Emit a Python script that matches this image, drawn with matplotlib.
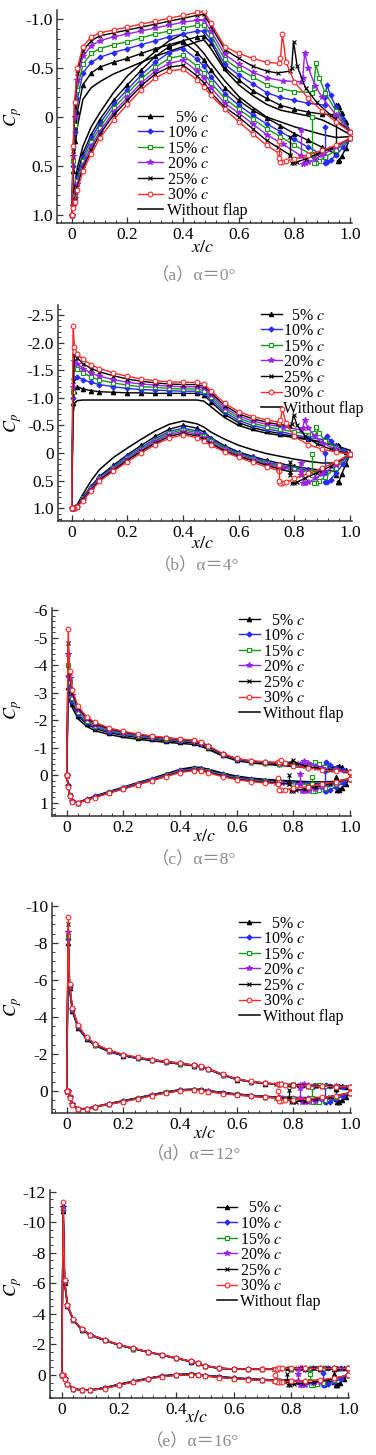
import matplotlib
matplotlib.use("Agg")
import matplotlib.pyplot as plt
from matplotlib.lines import Line2D
from matplotlib.ticker import MultipleLocator, FixedLocator, FixedFormatter

plt.rcParams['font.family'] = ['Liberation Serif', 'Noto Sans CJK SC']
plt.rcParams['mathtext.fontset'] = 'stix'
plt.rcParams['axes.unicode_minus'] = False

# ---------------- series definitions ----------------
LABELS = ["  5% $c$", "10% $c$", "15% $c$", "20% $c$", "25% $c$", "30% $c$", "Without flap"]
COLORS = ['black', '#2a2aff', '#139a13', '#9a22ee', 'black', '#ff2a2a', 'black']
MARKERS = ['^', 'D', 's', '*', 'x', 'o', None]
MFC = ['black', '#2a2aff', 'white', '#9a22ee', 'black', 'white', 'none']
MSIZE = [3.2, 2.6, 3.2, 3.8, 3.2, 3.4, 0]

# chordwise stations (x/c) on the main element, shared by all series
XM = [0, 0.005, 0.01, 0.02, 0.04, 0.07, 0.1, 0.15, 0.2, 0.25, 0.3, 0.35, 0.4,
      0.45, 0.475, 0.5, 0.55, 0.6, 0.65, 0.7]
# aft stations of the main element (up to hinge) per series
TAIL_X = [[0.75, 0.8, 0.85, 0.9, 0.95],
          [0.75, 0.8, 0.85, 0.91],
          [0.75, 0.8, 0.865],
          [0.76, 0.825],
          [0.74, 0.785],
          [0.745],
          [0.75, 0.8, 0.85, 0.9, 0.95, 1.0]]
# flap stations per flap series
FLAP_X = [[0.955, 0.96, 0.97, 0.985, 1.0],
          [0.91, 0.917, 0.93, 0.95, 0.975, 1.0],
          [0.87, 0.877, 0.89, 0.91, 0.95, 1.0],
          [0.83, 0.837, 0.85, 0.875, 0.9, 0.95, 1.0],
          [0.79, 0.797, 0.81, 0.84, 0.88, 0.93, 1.0],
          [0.75, 0.757, 0.77, 0.8, 0.85, 0.9, 0.95, 1.0]]

# ---------------- (a) alpha = 0 ----------------
UP_A = [
    [1.0, 0.55, 0.25, -0.05, -0.33, -0.45, -0.51, -0.56, -0.6, -0.65, -0.7, -0.74, -0.78, -0.82, -0.83, -0.76, -0.5, -0.38, -0.27, -0.19],
    [1.0, 0.5, 0.15, -0.18, -0.45, -0.56, -0.61, -0.66, -0.7, -0.74, -0.78, -0.82, -0.85, -0.88, -0.88, -0.79, -0.54, -0.43, -0.34, -0.25],
    [1.0, 0.45, 0.08, -0.28, -0.54, -0.65, -0.7, -0.74, -0.77, -0.81, -0.85, -0.88, -0.91, -0.94, -0.94, -0.84, -0.59, -0.49, -0.41, -0.33],
    [1.0, 0.4, 0.0, -0.38, -0.62, -0.73, -0.78, -0.82, -0.85, -0.88, -0.91, -0.94, -0.97, -0.99, -0.99, -0.88, -0.64, -0.54, -0.46, -0.4],
    [1.0, 0.35, -0.1, -0.45, -0.68, -0.78, -0.83, -0.86, -0.89, -0.92, -0.95, -0.98, -1.01, -1.04, -1.05, -0.93, -0.69, -0.6, -0.52, -0.47],
    [1.0, 0.3, -0.15, -0.5, -0.72, -0.82, -0.86, -0.89, -0.92, -0.95, -0.98, -1.01, -1.04, -1.07, -1.08, -0.96, -0.72, -0.65, -0.6, -0.56],
    [1.0, 0.6, 0.35, 0.1, -0.18, -0.3, -0.36, -0.44, -0.5, -0.56, -0.62, -0.67, -0.72, -0.77, -0.79, -0.7, -0.48, -0.33, -0.22, -0.13]]
LO_A = [
    [1.0, 0.88, 0.77, 0.59, 0.37, 0.18, 0.03, -0.17, -0.33, -0.48, -0.62, -0.72, -0.77, -0.66, -0.58, -0.48, -0.3, -0.17, -0.07, 0.01],
    [1.0, 0.89, 0.79, 0.62, 0.41, 0.22, 0.07, -0.13, -0.28, -0.43, -0.56, -0.66, -0.7, -0.59, -0.52, -0.41, -0.24, -0.12, -0.02, 0.07],
    [1.0, 0.9, 0.81, 0.66, 0.45, 0.26, 0.11, -0.09, -0.24, -0.39, -0.51, -0.6, -0.63, -0.52, -0.45, -0.35, -0.19, -0.08, 0.02, 0.12],
    [1.0, 0.91, 0.83, 0.69, 0.49, 0.3, 0.15, -0.05, -0.2, -0.35, -0.47, -0.55, -0.58, -0.47, -0.4, -0.3, -0.14, -0.04, 0.07, 0.18],
    [1.0, 0.92, 0.85, 0.72, 0.52, 0.34, 0.18, -0.02, -0.17, -0.32, -0.44, -0.51, -0.53, -0.42, -0.35, -0.25, -0.1, 0.0, 0.12, 0.24],
    [1.0, 0.93, 0.87, 0.75, 0.55, 0.38, 0.22, 0.03, -0.13, -0.28, -0.4, -0.47, -0.49, -0.38, -0.31, -0.22, -0.08, 0.05, 0.17, 0.29],
    [1.0, 0.85, 0.72, 0.52, 0.3, 0.1, -0.04, -0.25, -0.42, -0.55, -0.67, -0.78, -0.85, -0.73, -0.65, -0.55, -0.37, -0.21, -0.1, 0.0]]
UPT_A = [[-0.12, -0.08, -0.05, -0.03, -0.02], [-0.2, -0.17, -0.14, -0.12], [-0.29, -0.26, -0.25],
         [-0.37, -0.36], [-0.45, -0.47], [-0.55], [-0.07, -0.04, -0.01, 0.03, 0.1, 0.18]]
LOT_A = [[0.09, 0.17, 0.24, 0.31, 0.38], [0.15, 0.23, 0.31, 0.4], [0.2, 0.29, 0.39],
         [0.28, 0.4], [0.31, 0.39], [0.37], [0.05, 0.1, 0.14, 0.18, 0.21, 0.2]]
FUP_A = [[-0.12, -0.1, -0.04, 0.05, 0.15],
         [-0.2, -0.33, -0.22, -0.1, 0.02, 0.15],
         [-0.3, -0.55, -0.4, -0.25, -0.06, 0.15],
         [-0.4, -0.66, -0.5, -0.32, -0.2, -0.02, 0.15],
         [-0.5, -0.77, -0.52, -0.3, -0.15, -0.02, 0.15],
         [-0.6, -0.85, -0.56, -0.36, -0.19, -0.06, 0.05, 0.15]]
FLO_A = [[0.45, 0.44, 0.4, 0.32, 0.22],
         [0.47, 0.46, 0.44, 0.39, 0.31, 0.22],
         [0.47, 0.47, 0.45, 0.41, 0.34, 0.22],
         [0.48, 0.47, 0.46, 0.43, 0.39, 0.31, 0.22],
         [0.47, 0.47, 0.46, 0.43, 0.38, 0.32, 0.22],
         [0.46, 0.46, 0.45, 0.43, 0.39, 0.34, 0.29, 0.22]]
GAP_A = [[-0.12, 0.36], [0.1, 0.42], [0.0, 0.38], [0.13, 0.4], [0.2, 0.4], [0.25, 0.42]]

# ---------------- (b) alpha = 4 ----------------
UP_B = [
    [1.0, -0.9, -1.13, -1.2, -1.16, -1.13, -1.11, -1.1, -1.09, -1.09, -1.08, -1.08, -1.08, -1.08, -1.05, -0.93, -0.7, -0.55, -0.46, -0.4],
    [1.0, -1.0, -1.36, -1.38, -1.33, -1.28, -1.24, -1.2, -1.17, -1.15, -1.14, -1.13, -1.12, -1.12, -1.09, -0.97, -0.74, -0.59, -0.5, -0.44],
    [1.0, -1.1, -1.56, -1.53, -1.45, -1.38, -1.32, -1.27, -1.23, -1.2, -1.19, -1.17, -1.16, -1.16, -1.13, -1.01, -0.78, -0.63, -0.54, -0.48],
    [1.0, -1.2, -1.66, -1.62, -1.53, -1.45, -1.39, -1.33, -1.28, -1.25, -1.23, -1.21, -1.2, -1.2, -1.17, -1.05, -0.82, -0.67, -0.58, -0.52],
    [1.0, -1.3, -1.78, -1.72, -1.62, -1.53, -1.47, -1.4, -1.34, -1.3, -1.27, -1.25, -1.24, -1.24, -1.21, -1.09, -0.86, -0.71, -0.62, -0.56],
    [1.0, -2.3, -1.92, -1.8, -1.7, -1.6, -1.53, -1.45, -1.39, -1.34, -1.31, -1.29, -1.28, -1.28, -1.25, -1.13, -0.9, -0.75, -0.66, -0.6],
    [1.0, -0.7, -0.9, -0.95, -0.96, -0.96, -0.96, -0.96, -0.96, -0.96, -0.96, -0.96, -0.96, -0.96, -0.94, -0.84, -0.64, -0.5, -0.42, -0.36]]
LO_B = [
    [1.0, 1.0, 1.0, 0.95, 0.8, 0.6, 0.42, 0.22, 0.03, -0.14, -0.3, -0.43, -0.5, -0.45, -0.38, -0.28, -0.13, -0.02, 0.06, 0.13],
    [1.0, 1.0, 1.0, 0.96, 0.81, 0.62, 0.44, 0.25, 0.06, -0.1, -0.26, -0.39, -0.45, -0.4, -0.34, -0.25, -0.1, 0.0, 0.08, 0.16],
    [1.0, 1.0, 1.0, 0.96, 0.82, 0.64, 0.46, 0.27, 0.09, -0.07, -0.23, -0.36, -0.42, -0.37, -0.31, -0.22, -0.08, 0.02, 0.1, 0.18],
    [1.0, 1.0, 1.0, 0.97, 0.83, 0.65, 0.47, 0.29, 0.11, -0.05, -0.21, -0.33, -0.39, -0.34, -0.28, -0.19, -0.06, 0.04, 0.12, 0.2],
    [1.0, 1.0, 1.0, 0.97, 0.84, 0.67, 0.49, 0.31, 0.13, -0.03, -0.18, -0.3, -0.36, -0.31, -0.25, -0.17, -0.04, 0.06, 0.14, 0.22],
    [1.0, 1.0, 1.0, 0.98, 0.86, 0.69, 0.51, 0.33, 0.16, 0.0, -0.15, -0.27, -0.33, -0.28, -0.22, -0.14, -0.02, 0.08, 0.17, 0.25],
    [1.0, 1.0, 1.0, 0.93, 0.75, 0.5, 0.3, 0.08, -0.09, -0.25, -0.4, -0.52, -0.58, -0.53, -0.47, -0.38, -0.25, -0.14, -0.06, 0.01]]
UPT_B = [[-0.35, -0.3, -0.25, -0.2, -0.15], [-0.39, -0.33, -0.28, -0.24], [-0.43, -0.38, -0.34],
         [-0.47, -0.42], [-0.52, -0.49], [-0.56], [-0.32, -0.28, -0.24, -0.19, -0.13, -0.05]]
LOT_B = [[0.19, 0.24, 0.28, 0.31, 0.33], [0.22, 0.27, 0.31, 0.34], [0.24, 0.29, 0.34],
         [0.27, 0.34], [0.28, 0.34], [0.32], [0.06, 0.11, 0.15, 0.18, 0.18, 0.05]]
FUP_B = [[-0.15, -0.12, -0.06, -0.02, 0.02],
         [-0.25, -0.3, -0.22, -0.12, -0.05, 0.02],
         [-0.36, -0.48, -0.36, -0.22, -0.1, 0.02],
         [-0.45, -0.6, -0.45, -0.3, -0.18, -0.07, 0.02],
         [-0.52, -0.69, -0.5, -0.3, -0.17, -0.07, 0.02],
         [-0.6, -0.79, -0.55, -0.3, -0.15, -0.07, -0.02, 0.02]]
FLO_B = [[0.52, 0.52, 0.38, 0.2, 0.02],
         [0.53, 0.53, 0.48, 0.36, 0.2, 0.02],
         [0.54, 0.54, 0.51, 0.43, 0.27, 0.02],
         [0.55, 0.55, 0.53, 0.46, 0.38, 0.22, 0.02],
         [0.55, 0.55, 0.53, 0.45, 0.36, 0.24, 0.02],
         [0.55, 0.55, 0.53, 0.46, 0.37, 0.27, 0.16, 0.02]]
GAP_B = [[0.16, 0.4], [0.0, 0.4], [0.02, 0.4], [0.18, 0.4], [0.17, 0.4], [0.22, 0.5]]

# ---------------- (c) alpha = 8 ----------------
UP_C = [
    [0.0, -3.2, -3.0, -2.6, -2.15, -1.87, -1.7, -1.55, -1.45, -1.37, -1.31, -1.26, -1.22, -1.18, -1.12, -1.0, -0.74, -0.56, -0.48, -0.44],
    [0.0, -3.6, -3.2, -2.7, -2.22, -1.93, -1.75, -1.59, -1.49, -1.41, -1.35, -1.3, -1.25, -1.21, -1.15, -1.02, -0.75, -0.57, -0.49, -0.45],
    [0.0, -4.0, -3.4, -2.8, -2.3, -1.98, -1.8, -1.63, -1.52, -1.44, -1.38, -1.32, -1.27, -1.23, -1.17, -1.04, -0.76, -0.58, -0.5, -0.46],
    [0.0, -4.4, -3.55, -2.9, -2.38, -2.04, -1.84, -1.66, -1.55, -1.46, -1.4, -1.34, -1.29, -1.25, -1.18, -1.05, -0.77, -0.59, -0.51, -0.47],
    [0.0, -4.8, -3.7, -3.0, -2.44, -2.09, -1.88, -1.69, -1.58, -1.48, -1.42, -1.36, -1.31, -1.26, -1.19, -1.06, -0.78, -0.6, -0.52, -0.48],
    [0.0, -5.3, -3.8, -3.1, -2.5, -2.13, -1.92, -1.72, -1.6, -1.5, -1.43, -1.37, -1.32, -1.27, -1.2, -1.07, -0.79, -0.61, -0.53, -0.49],
    [0.0, -2.9, -2.7, -2.45, -2.05, -1.78, -1.62, -1.48, -1.38, -1.31, -1.25, -1.2, -1.16, -1.12, -1.05, -0.94, -0.7, -0.53, -0.45, -0.4]]
LO_C = [
    [0.0, 0.36, 0.71, 0.94, 0.99, 0.88, 0.76, 0.6, 0.44, 0.28, 0.13, -0.03, -0.2, -0.27, -0.25, -0.19, -0.05, 0.06, 0.13, 0.18],
    [0.0, 0.37, 0.72, 0.94, 0.99, 0.88, 0.77, 0.61, 0.45, 0.3, 0.15, -0.01, -0.18, -0.25, -0.23, -0.17, -0.03, 0.08, 0.15, 0.2],
    [0.0, 0.38, 0.73, 0.95, 1.0, 0.89, 0.78, 0.62, 0.46, 0.31, 0.16, 0.0, -0.16, -0.23, -0.21, -0.15, -0.01, 0.1, 0.17, 0.22],
    [0.0, 0.39, 0.74, 0.95, 1.0, 0.9, 0.79, 0.63, 0.47, 0.32, 0.17, 0.02, -0.14, -0.21, -0.19, -0.13, 0.01, 0.12, 0.19, 0.24],
    [0.0, 0.4, 0.75, 0.96, 1.0, 0.9, 0.8, 0.64, 0.49, 0.34, 0.19, 0.04, -0.12, -0.19, -0.17, -0.11, 0.03, 0.14, 0.21, 0.26],
    [0.0, 0.41, 0.76, 0.96, 1.0, 0.91, 0.81, 0.65, 0.5, 0.35, 0.2, 0.05, -0.1, -0.17, -0.15, -0.09, 0.05, 0.16, 0.23, 0.28],
    [0.0, 0.35, 0.7, 0.93, 0.98, 0.87, 0.75, 0.59, 0.43, 0.27, 0.12, -0.05, -0.22, -0.3, -0.28, -0.22, -0.08, 0.03, 0.1, 0.15]]
UPT_C = [[-0.4, -0.37, -0.33, -0.3, -0.27], [-0.41, -0.38, -0.35, -0.32], [-0.42, -0.39, -0.36],
         [-0.43, -0.4], [-0.45, -0.43], [-0.47], [-0.36, -0.32, -0.28, -0.23, -0.17, -0.1]]
LOT_C = [[0.22, 0.26, 0.29, 0.32, 0.34], [0.24, 0.28, 0.31, 0.34], [0.26, 0.3, 0.34],
         [0.28, 0.33], [0.29, 0.32], [0.31], [0.18, 0.21, 0.23, 0.24, 0.22, 0.12]]
FUP_C = [[-0.3, -0.35, -0.3, -0.2, -0.12],
         [-0.35, -0.47, -0.38, -0.28, -0.2, -0.12],
         [-0.38, -0.5, -0.4, -0.3, -0.2, -0.12],
         [-0.42, -0.53, -0.45, -0.35, -0.28, -0.2, -0.12],
         [-0.45, -0.55, -0.45, -0.34, -0.26, -0.18, -0.12],
         [-0.47, -0.55, -0.45, -0.35, -0.26, -0.2, -0.15, -0.12]]
FLO_C = [[0.55, 0.55, 0.45, 0.3, 0.12],
         [0.57, 0.57, 0.52, 0.42, 0.28, 0.12],
         [0.58, 0.58, 0.55, 0.48, 0.32, 0.12],
         [0.58, 0.58, 0.56, 0.5, 0.43, 0.28, 0.12],
         [0.57, 0.57, 0.55, 0.5, 0.42, 0.3, 0.12],
         [0.54, 0.54, 0.52, 0.48, 0.41, 0.33, 0.23, 0.12]]
GAP_C = [[0.05, 0.3], [-0.15, 0.3], [0.05, 0.3], [-0.05, 0.3], [0.0, 0.3], [0.1, 0.3]]

# ---------------- (d) alpha = 12 ----------------
UP_D = [
    [0.0, -8.0, -5.55, -4.34, -3.43, -2.82, -2.47, -2.14, -1.91, -1.77, -1.66, -1.56, -1.46, -1.37, -1.3, -1.17, -0.87, -0.62, -0.49, -0.4],
    [0.0, -8.2, -5.6, -4.38, -3.46, -2.84, -2.49, -2.15, -1.92, -1.78, -1.67, -1.57, -1.47, -1.37, -1.31, -1.18, -0.87, -0.63, -0.5, -0.41],
    [0.0, -8.4, -5.65, -4.42, -3.49, -2.86, -2.51, -2.17, -1.94, -1.79, -1.68, -1.58, -1.48, -1.38, -1.31, -1.18, -0.88, -0.63, -0.5, -0.41],
    [0.0, -8.6, -5.7, -4.45, -3.51, -2.87, -2.52, -2.18, -1.95, -1.8, -1.69, -1.59, -1.49, -1.39, -1.32, -1.19, -0.89, -0.64, -0.51, -0.42],
    [0.0, -9.0, -5.75, -4.48, -3.53, -2.89, -2.54, -2.19, -1.96, -1.81, -1.7, -1.6, -1.5, -1.4, -1.33, -1.2, -0.9, -0.65, -0.52, -0.43],
    [0.0, -9.4, -5.8, -4.5, -3.55, -2.9, -2.55, -2.2, -1.97, -1.82, -1.7, -1.6, -1.5, -1.4, -1.33, -1.2, -0.9, -0.65, -0.52, -0.43],
    [0.0, -7.8, -5.5, -4.3, -3.4, -2.8, -2.45, -2.12, -1.9, -1.76, -1.65, -1.55, -1.45, -1.36, -1.29, -1.16, -0.86, -0.62, -0.49, -0.4]]
LO_D = [
    [0.0, 0.0, 0.31, 0.71, 0.97, 0.95, 0.85, 0.69, 0.53, 0.38, 0.21, 0.06, -0.06, -0.09, -0.07, -0.01, 0.09, 0.17, 0.24, 0.3],
    [0.0, 0.0, 0.32, 0.72, 0.98, 0.95, 0.85, 0.7, 0.54, 0.39, 0.22, 0.07, -0.05, -0.08, -0.06, 0.0, 0.1, 0.18, 0.25, 0.31],
    [0.0, 0.0, 0.33, 0.72, 0.98, 0.96, 0.86, 0.7, 0.55, 0.4, 0.23, 0.08, -0.04, -0.07, -0.05, 0.01, 0.11, 0.19, 0.26, 0.32],
    [0.0, 0.0, 0.34, 0.73, 0.99, 0.96, 0.86, 0.71, 0.56, 0.41, 0.24, 0.09, -0.03, -0.06, -0.04, 0.02, 0.12, 0.2, 0.27, 0.33],
    [0.0, 0.0, 0.35, 0.74, 0.99, 0.97, 0.87, 0.72, 0.57, 0.42, 0.25, 0.1, -0.02, -0.05, -0.03, 0.03, 0.13, 0.21, 0.28, 0.34],
    [0.0, 0.0, 0.36, 0.75, 1.0, 0.97, 0.87, 0.72, 0.58, 0.43, 0.26, 0.11, -0.01, -0.04, -0.02, 0.04, 0.14, 0.22, 0.29, 0.35],
    [0.0, 0.0, 0.3, 0.7, 0.97, 0.94, 0.84, 0.68, 0.52, 0.37, 0.2, 0.05, -0.07, -0.1, -0.08, -0.02, 0.08, 0.16, 0.23, 0.29]]
UPT_D = [[-0.36, -0.31, -0.28, -0.26, -0.25], [-0.36, -0.32, -0.29, -0.27], [-0.37, -0.32, -0.29],
         [-0.36, -0.31], [-0.38, -0.34], [-0.38], [-0.34, -0.3, -0.27, -0.25, -0.23, -0.22]]
LOT_D = [[0.34, 0.37, 0.39, 0.4, 0.42], [0.35, 0.38, 0.4, 0.42], [0.36, 0.39, 0.42],
         [0.37, 0.42], [0.37, 0.41], [0.38], [0.33, 0.35, 0.36, 0.35, 0.3, 0.1]]
FUP_D = [[-0.25, -0.26, -0.25, -0.24, -0.23],
         [-0.27, -0.3, -0.28, -0.26, -0.24, -0.23],
         [-0.29, -0.33, -0.3, -0.27, -0.25, -0.23],
         [-0.31, -0.36, -0.32, -0.29, -0.27, -0.25, -0.23],
         [-0.33, -0.38, -0.33, -0.29, -0.27, -0.25, -0.23],
         [-0.36, -0.4, -0.34, -0.3, -0.27, -0.25, -0.24, -0.23]]
FLO_D = [[0.6, 0.6, 0.5, 0.3, 0.1],
         [0.62, 0.62, 0.57, 0.45, 0.28, 0.1],
         [0.62, 0.62, 0.58, 0.5, 0.3, 0.1],
         [0.62, 0.62, 0.59, 0.53, 0.45, 0.28, 0.1],
         [0.6, 0.6, 0.57, 0.52, 0.44, 0.3, 0.1],
         [0.52, 0.52, 0.5, 0.47, 0.42, 0.35, 0.25, 0.1]]
GAP_D = [[-0.1, 0.4], [-0.25, 0.4], [-0.2, 0.4], [-0.15, 0.4], [-0.05, 0.4], [0.0, 0.4]]

# ---------------- (e) alpha = 16 ----------------
UP_E = [
    [0.0, -10.7, -6.04, -4.52, -3.59, -2.96, -2.61, -2.27, -1.95, -1.72, -1.5, -1.29, -1.1, -0.88, -0.76, -0.6, -0.43, -0.38, -0.37, -0.37],
    [0.0, -10.8, -6.08, -4.54, -3.6, -2.97, -2.62, -2.28, -1.96, -1.73, -1.51, -1.3, -1.1, -0.88, -0.76, -0.61, -0.44, -0.39, -0.38, -0.38],
    [0.0, -10.9, -6.12, -4.56, -3.62, -2.98, -2.63, -2.28, -1.96, -1.73, -1.51, -1.3, -1.11, -0.89, -0.77, -0.61, -0.44, -0.39, -0.38, -0.38],
    [0.0, -11.0, -6.16, -4.58, -3.63, -2.99, -2.64, -2.29, -1.97, -1.74, -1.52, -1.31, -1.11, -0.89, -0.77, -0.62, -0.45, -0.4, -0.39, -0.39],
    [0.0, -11.2, -6.2, -4.6, -3.64, -3.0, -2.65, -2.3, -1.98, -1.75, -1.53, -1.32, -1.12, -0.9, -0.78, -0.62, -0.45, -0.4, -0.39, -0.39],
    [0.0, -11.3, -6.2, -4.6, -3.65, -3.0, -2.65, -2.3, -1.98, -1.75, -1.53, -1.32, -1.12, -0.9, -0.78, -0.62, -0.45, -0.4, -0.39, -0.39],
    [0.0, -10.5, -6.0, -4.5, -3.58, -2.95, -2.6, -2.26, -1.95, -1.72, -1.5, -1.29, -1.09, -0.87, -0.75, -0.6, -0.43, -0.38, -0.37, -0.37]]
LO_E = [
    [0.0, 0.0, 0.21, 0.56, 0.89, 0.98, 0.98, 0.83, 0.61, 0.41, 0.22, 0.06, -0.03, -0.06, -0.04, 0.02, 0.11, 0.19, 0.25, 0.3],
    [0.0, 0.0, 0.22, 0.57, 0.89, 0.98, 0.98, 0.84, 0.62, 0.42, 0.23, 0.07, -0.02, -0.05, -0.03, 0.03, 0.12, 0.2, 0.26, 0.31],
    [0.0, 0.0, 0.23, 0.58, 0.9, 0.99, 0.99, 0.85, 0.63, 0.43, 0.24, 0.08, -0.01, -0.04, -0.02, 0.04, 0.13, 0.21, 0.27, 0.32],
    [0.0, 0.0, 0.24, 0.59, 0.9, 0.99, 0.99, 0.86, 0.64, 0.44, 0.25, 0.09, 0.0, -0.03, -0.01, 0.05, 0.14, 0.22, 0.28, 0.33],
    [0.0, 0.0, 0.25, 0.6, 0.91, 1.0, 1.0, 0.87, 0.65, 0.45, 0.26, 0.1, 0.01, -0.02, 0.0, 0.06, 0.15, 0.23, 0.29, 0.34],
    [0.0, 0.0, 0.26, 0.61, 0.91, 1.0, 1.0, 0.88, 0.66, 0.46, 0.27, 0.11, 0.02, -0.01, 0.01, 0.07, 0.16, 0.24, 0.3, 0.35],
    [0.0, 0.0, 0.2, 0.55, 0.88, 0.97, 0.97, 0.82, 0.6, 0.4, 0.21, 0.05, -0.04, -0.07, -0.05, 0.01, 0.1, 0.18, 0.24, 0.29]]
UPT_E = [[-0.38, -0.39, -0.4, -0.41, -0.42], [-0.39, -0.4, -0.41, -0.42], [-0.39, -0.4, -0.41],
         [-0.4, -0.41], [-0.4, -0.41], [-0.4], [-0.37, -0.37, -0.38, -0.38, -0.39, -0.4]]
LOT_E = [[0.33, 0.36, 0.39, 0.41, 0.43], [0.34, 0.37, 0.4, 0.42], [0.35, 0.38, 0.42],
         [0.36, 0.42], [0.37, 0.4], [0.38], [0.32, 0.35, 0.38, 0.4, 0.3, 0.0]]
FUP_E = [[-0.45, -0.46, -0.45, -0.45, -0.44],
         [-0.45, -0.47, -0.46, -0.45, -0.45, -0.44],
         [-0.44, -0.47, -0.46, -0.45, -0.45, -0.44],
         [-0.44, -0.47, -0.46, -0.45, -0.45, -0.45, -0.44],
         [-0.43, -0.46, -0.45, -0.45, -0.44, -0.44, -0.44],
         [-0.42, -0.45, -0.44, -0.44, -0.44, -0.44, -0.44, -0.44]]
FLO_E = [[0.65, 0.65, 0.5, 0.25, 0.0],
         [0.65, 0.65, 0.58, 0.45, 0.25, 0.0],
         [0.66, 0.66, 0.6, 0.5, 0.3, 0.0],
         [0.66, 0.66, 0.62, 0.55, 0.47, 0.25, 0.0],
         [0.63, 0.63, 0.6, 0.55, 0.47, 0.3, 0.0],
         [0.45, 0.45, 0.44, 0.42, 0.38, 0.3, 0.2, 0.0]]
GAP_E = [[-0.1, 0.42], [-0.15, 0.42], [-0.05, 0.42], [-0.1, 0.42], [-0.05, 0.4], [0.0, 0.4]]

# ---------------- axes / labels ----------------
X_TICKS = [0, 0.2, 0.4, 0.6, 0.8, 1.0]
X_TICKLABELS = ['0', '0.2', '0.4', '0.6', '0.8', '1.0']
Y_TICKS = [[-1.0, -0.5, 0, 0.5, 1.0],
           [-2.5, -2.0, -1.5, -1.0, -0.5, 0, 0.5, 1.0],
           [-6, -5, -4, -3, -2, -1, 0, 1],
           [-10, -8, -6, -4, -2, 0],
           [-12, -10, -8, -6, -4, -2, 0]]
Y_TICKLABELS = [['-1.0', '-0.5', '0', '0.5', '1.0'],
                ['-2.5', '-2.0', '-1.5', '-1.0', '-0.5', '0', '0.5', '1.0'],
                ['-6', '-5', '-4', '-3', '-2', '-1', '0', '1'],
                ['-10', '-8', '-6', '-4', '-2', '0'],
                ['-12', '-10', '-8', '-6', '-4', '-2', '0']]
Y_MINOR = [0.1, 0.1, 0.2, 0.5, 0.5]
CAPTIONS = ["（a）α＝0°", "（b）α＝4°", "（c）α＝8°", "（d）α＝12°", "（e）α＝16°"]

W, H = 376, 1455
fig = plt.figure(figsize=(W / 100, H / 100), dpi=100)

def fx(px):
    return px / W

def fy(py):
    return 1 - py / H

LEG_FS = 11.5
# layout in pixels: (left, right, top, bottom), xlim, ylim
LAYOUT = [
    dict(l=57.3, r=351.7, t=10, b=222.7, xlim=(-0.052, 1.006), ylim=(1.082, -1.095),
         leg=(138, 109.5), hl=1.56, htp=0.25, cap=(194, 276), xl=(203, 248), cp=(13, 117)),
    dict(l=58.3, r=351.7, t=305, b=521, xlim=(-0.048, 1.006), ylim=(1.23, -2.68),
         leg=(261, 307.5), hl=1.3, htp=0.08, cap=(197, 566), xl=(203, 543), cp=(13, 423)),
    dict(l=52.3, r=351.0, t=608, b=816, xlim=(-0.051, 1.0035), ylim=(1.48, -6.08),
         leg=(239, 612.5), hl=1.3, htp=0.2, cap=(194, 860), xl=(205, 837), cp=(13, 710)),
    dict(l=52.3, r=351.0, t=903, b=1113, xlim=(-0.051, 1.0035), ylim=(1.19, -10.16),
         leg=(239, 915.5), hl=1.3, htp=0.2, cap=(194, 1155), xl=(205, 1133), cp=(13, 1007)),
    dict(l=50.0, r=349.0, t=1190, b=1398.3, xlim=(-0.041, 1.002), ylim=(1.52, -12.1),
         leg=(217, 1200.5), hl=1.25, htp=0.2, cap=(193, 1442), xl=(197, 1417), cp=(13, 1287)),
]
DATA = [(UP_A, LO_A, UPT_A, LOT_A, FUP_A, FLO_A, GAP_A),
        (UP_B, LO_B, UPT_B, LOT_B, FUP_B, FLO_B, GAP_B),
        (UP_C, LO_C, UPT_C, LOT_C, FUP_C, FLO_C, GAP_C),
        (UP_D, LO_D, UPT_D, LOT_D, FUP_D, FLO_D, GAP_D),
        (UP_E, LO_E, UPT_E, LOT_E, FUP_E, FLO_E, GAP_E)]

for i, (lay, dat) in enumerate(zip(LAYOUT, DATA)):
    up, lo, upt, lot, fup, flo, gap = dat
    ax = fig.add_axes([fx(lay['l']), fy(lay['b']), fx(lay['r'] - lay['l']), (lay['b'] - lay['t']) / H])
    for s in [6, 0, 1, 2, 3, 4, 5]:
        xs = XM + TAIL_X[s]
        yu = up[s] + upt[s]
        yl = lo[s] + lot[s]
        if s == 6:
            ax.plot(xs + xs[::-1], yu + yl[::-1], color='black', lw=1.1, zorder=2)
            continue
        xline = xs[::-1] + xs + FLAP_X[s] + FLAP_X[s][::-1]
        yline = yl[::-1] + yu + fup[s] + flo[s][::-1]
        kw = dict(color=COLORS[s], lw=1.0, marker=MARKERS[s], ms=MSIZE[s],
                  mfc=MFC[s], mec=COLORS[s], mew=0.8, zorder=3 + s)
        ax.plot(xline, yline, **kw)
        ax.plot([xs[-1], xs[-1]], gap[s], **kw)
    ax.set_xlim(*lay['xlim'])
    ax.set_ylim(*lay['ylim'])
    for sp in ['top', 'right']:
        ax.spines[sp].set_visible(False)
    for sp in ['left', 'bottom']:
        ax.spines[sp].set_linewidth(1.1)
        ax.spines[sp].set_color('#333333')
    ax.xaxis.set_major_locator(FixedLocator(X_TICKS))
    ax.xaxis.set_major_formatter(FixedFormatter(X_TICKLABELS))
    ax.xaxis.set_minor_locator(MultipleLocator(0.04))
    ax.yaxis.set_major_locator(FixedLocator(Y_TICKS[i]))
    ax.yaxis.set_major_formatter(FixedFormatter(Y_TICKLABELS[i]))
    ax.yaxis.set_minor_locator(MultipleLocator(Y_MINOR[i]))
    ax.tick_params(which='both', direction='in', color='#333333', labelsize=12.5, pad=3)
    ax.tick_params(which='major', length=4, width=0.9)
    ax.tick_params(which='minor', length=2, width=0.7)
    ax.patch.set_alpha(0)

    handles = []
    for s in range(7):
        if s == 6:
            handles.append(Line2D([], [], color='black', lw=1.1))
        else:
            handles.append(Line2D([], [], color=COLORS[s], lw=1.0, marker=MARKERS[s], ms=MSIZE[s],
                                  mfc=MFC[s], mec=COLORS[s], mew=0.8))
    ax.legend(handles, LABELS, loc='upper left', bbox_to_anchor=(fx(lay['leg'][0]), fy(lay['leg'][1])),
              bbox_transform=fig.transFigure, frameon=False, fontsize=LEG_FS,
              handlelength=lay['hl'], handletextpad=lay['htp'], labelspacing=-0.03,
              borderpad=0, borderaxespad=0, markerscale=1.0)

    fig.text(fx(lay['xl'][0]), fy(lay['xl'][1]), r'$x/c$', ha='center', va='center', fontsize=13)
    fig.text(fx(lay['cp'][0]), fy(lay['cp'][1]), r'$C_p$', ha='center', va='center', fontsize=13, rotation=90)
    fig.text(fx(lay['cap'][0]), fy(lay['cap'][1]), CAPTIONS[i], ha='center', va='center',
             fontsize=12.5, color='#8a8a8a')

fig.savefig('out.png', dpi=100)
